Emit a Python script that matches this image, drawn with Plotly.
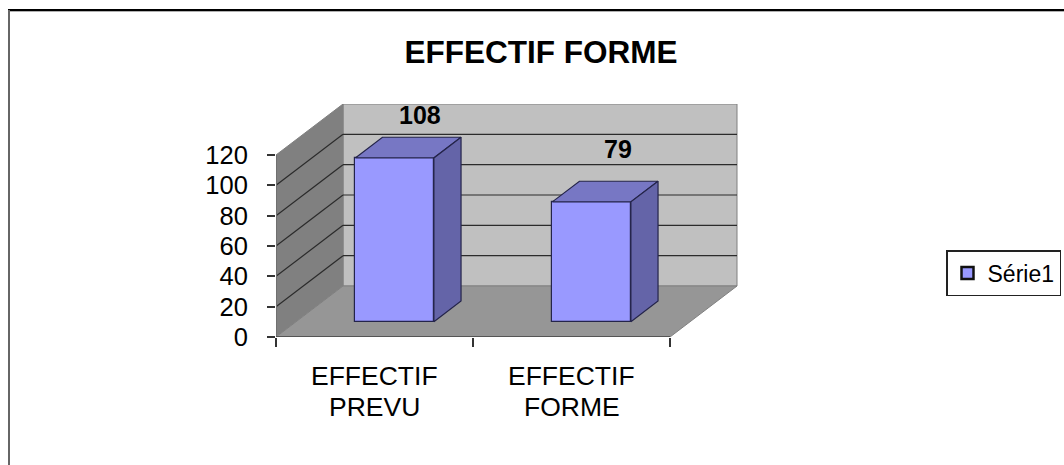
import plotly.graph_objects as go

# ---- data ----
categories = ["EFFECTIF PREVU", "EFFECTIF FORME"]
series_name = "Série1"
values = [108, 79]
y_ticks = [0, 20, 40, 60, 80, 100, 120]
chart_title = "EFFECTIF FORME"

# ---- page geometry (pixels) ----
W, H = 1064, 465
L, R, T, B = 276, 738, 104, 337
CAT_PX = 197.0
Y_PX = 182.0 / 120.0
FONT = "Liberation Sans, Arial, sans-serif"

x_min = -0.5
x_max = x_min + (R - L) / CAT_PX
y_max = (B - T) / Y_PX
axis_x_end = 1.5
axis_y_end = y_ticks[-1]

# oblique projection: depth 1 = full depth of the floor
DX = 67.0 / CAT_PX
DY = 51.0 / Y_PX
BAR_W = 78.6 / CAT_PX
D0, D1 = 0.30, 0.705


def proj(x, y, d):
    return x + d * DX, y + d * DY


def px(p):
    return (p - L) / (R - L)


def py(p):
    return (B - p) / (B - T)


def poly(points, fill, line="#808080", width=1):
    path = "M" + " L".join(f"{a},{b}" for a, b in points) + " Z"
    return dict(type="path", path=path, xref="x", yref="y", fillcolor=fill,
                line=dict(color=line, width=width), layer="below")


def seg(a, b, color="#2b2b2b", width=1.2):
    return dict(type="line", xref="x", yref="y", x0=a[0], y0=a[1], x1=b[0], y1=b[1],
                line=dict(color=color, width=width), layer="below")


shapes = [
    poly([proj(x_min, 0, 1), proj(axis_x_end, 0, 1), proj(axis_x_end, axis_y_end, 1), proj(x_min, axis_y_end, 1)], "#C0C0C0"),
    poly([proj(x_min, 0, 0), proj(x_min, 0, 1), proj(x_min, axis_y_end, 1), proj(x_min, axis_y_end, 0)], "#808080"),
    poly([proj(x_min, 0, 0), proj(axis_x_end, 0, 0), proj(axis_x_end, 0, 1), proj(x_min, 0, 1)], "#969696"),
]
for t in y_ticks[1:-1]:
    shapes.append(seg(proj(x_min, t, 0), proj(x_min, t, 1)))
    shapes.append(seg(proj(x_min, t, 1), proj(axis_x_end, t, 1)))
# outer frame of the chart
shapes += [
    dict(type="line", xref="paper", yref="paper", x0=px(8), x1=px(W), y0=py(10), y1=py(10),
         line=dict(color="#000000", width=2)),
    dict(type="line", xref="paper", yref="paper", x0=px(8), x1=px(W), y0=py(11.5), y1=py(11.5),
         line=dict(color="#B0B0B0", width=1)),
    dict(type="line", xref="paper", yref="paper", x0=px(9), x1=px(9), y0=py(10), y1=py(H),
         line=dict(color="#666666", width=2)),
]

fig = go.Figure()

# front faces: real bars
x_pos = [i + D0 * DX for i in range(len(values))]
base = D0 * DY
fig.add_trace(go.Bar(
    x=x_pos, y=values, base=[base] * len(values), width=BAR_W, name=series_name,
    marker=dict(color="#9999FF", line=dict(color="#24244a", width=1.2)),
    showlegend=False,
))
# legend swatch with the heavier outline of the reference
fig.add_trace(go.Bar(
    x=[None], y=[None], name=series_name,
    marker=dict(color="#9999FF", line=dict(color="#111111", width=2.5)),
    showlegend=True,
))

# side and top faces, derived from the same values
for i, v in enumerate(values):
    xl, xr = i - BAR_W / 2, i + BAR_W / 2
    top = [proj(xl, v, D0), proj(xr, v, D0), proj(xr, v, D1), proj(xl, v, D1), proj(xl, v, D0)]
    side = [proj(xr, 0, D0), proj(xr, 0, D1), proj(xr, v, D1), proj(xr, v, D0), proj(xr, 0, D0)]
    for pts, col in ((top, "#7777C4"), (side, "#6464A8")):
        fig.add_trace(go.Scatter(
            x=[p[0] for p in pts], y=[p[1] for p in pts], mode="lines", fill="toself",
            fillcolor=col, line=dict(color="#24244a", width=1.2), showlegend=False,
            hoverinfo="skip", cliponaxis=False,
        ))

# axis lines
fig.add_trace(go.Scatter(x=[x_min, x_min], y=[0, axis_y_end], mode="lines",
                         line=dict(color="#707070", width=2), showlegend=False,
                         hoverinfo="skip", cliponaxis=False))
fig.add_trace(go.Scatter(x=[x_min, axis_x_end], y=[0, 0], mode="lines",
                         line=dict(color="#555555", width=2), showlegend=False,
                         hoverinfo="skip", cliponaxis=False))

# annotations: data labels and category labels
label_shift = [(45.5, 58), (46.5, 68)]
annotations = []
for i, v in enumerate(values):
    annotations.append(dict(x=i, y=v, xref="x", yref="y", text="<b>" + str(v) + "</b>", showarrow=False,
                            xshift=label_shift[i][0], yshift=label_shift[i][1], yanchor="middle",
                            font=dict(family=FONT, size=25, color="#000000")))
for i, c in enumerate(categories):
    for j, part in enumerate(c.split(" ")):
        annotations.append(dict(x=i, y=py(376 + 31 * j), xref="x", yref="paper", text=part,
                                showarrow=False, yanchor="middle",
                                font=dict(family=FONT, size=26.5, color="#000000")))

fig.update_layout(
    width=W, height=H, autosize=False,
    margin=dict(l=L, r=W - R, t=T, b=H - B, pad=0, autoexpand=False),
    paper_bgcolor="#FFFFFF", plot_bgcolor="rgba(0,0,0,0)",
    font=dict(family=FONT, color="#000000"),
    title=dict(text="<b>" + chart_title + "</b>", x=541 / W, y=1 - 52 / H, xref="container",
               yref="container", xanchor="center", yanchor="middle",
               font=dict(family=FONT, size=31.5, color="#000000")),
    xaxis=dict(range=[x_min, x_max], tickvals=[-0.5, 0.5, 1.5], ticktext=["", "", ""],
               ticks="outside", ticklen=9, tickwidth=1.5, tickcolor="#333333",
               showgrid=False, zeroline=False, showline=False),
    yaxis=dict(range=[0, y_max], tickvals=y_ticks, ticks="outside", ticklen=8, tickwidth=1.5,
               tickcolor="#333333", showgrid=False, zeroline=False, showline=False,
               tickfont=dict(family=FONT, size=25.5, color="#000000"), ticklabelstandoff=14),
    legend=dict(x=px(1061), y=py(273), xanchor="right", yanchor="middle", bgcolor="#FFFFFF",
                bordercolor="#222222", borderwidth=1.5,
                font=dict(family=FONT, size=23, color="#000000")),
    shapes=shapes, annotations=annotations, barmode="overlay", bargap=0,
)

fig.write_html("out.html", config={"displayModeBar": False},
               post_script="document.body.style.margin='0';document.documentElement.style.overflow='hidden';")
